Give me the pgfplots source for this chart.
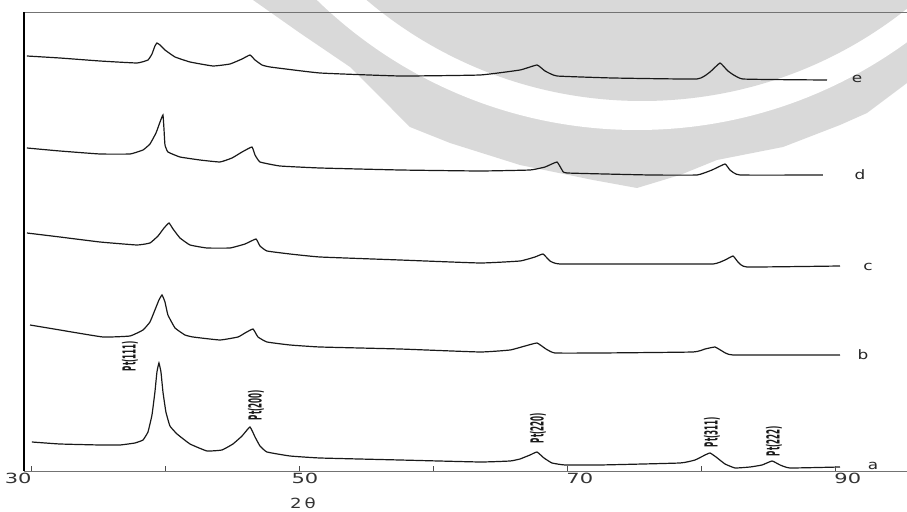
\documentclass[border=0pt]{standalone}
\usepackage{fontspec}
\setmainfont{DejaVu Sans}
\usepackage{graphicx}
\usepackage{pgfplots}
\pgfplotsset{compat=1.18}
\definecolor{wm}{RGB}{217,217,217}
\definecolor{ink}{RGB}{25,25,25}
\begin{document}
\begin{tikzpicture}
\begin{axis}[
  scale only axis, width=883pt, height=459pt,
  xmin=29.48, xmax=95.37, ymin=0, ymax=459,
  axis x line=box, axis y line=left,
  x axis line style={draw=black!55, line width=0.9pt, -},
  y axis line style={draw=black, line width=1.5pt, -},
  xtick={30,50,70,90}, minor xtick={40,60,80},
  xticklabels={30\hspace*{17pt},\hspace*{8pt}50,\hspace*{17pt}70,\hspace*{17pt}90},
  xtick pos=left, ytick=\empty,
  tick align=inside, major tick length=5pt, minor tick length=5pt,
  tick style={black!70, line width=0.8pt},
  xticklabel style={font=\fontsize{14}{14}\selectfont, xscale=1.5, text=black!80, yshift=1pt},
  xlabel={2\,θ},
  xlabel style={at={(axis description cs:0.316,0)}, anchor=center, yshift=-32pt, font=\fontsize{14}{14}\selectfont, xscale=1.3, text=black!80},
  clip=false, axis on top,
  curve/.style={draw=ink, line width=1.2pt, smooth, tension=0.2, mark=none},
]
% background watermark
\addplot[fill=wm, draw=none, sharp plot, mark=none] coordinates {
(46.57,471) (50.07,438) (53.81,404) (56.27,371) (58.28,344) (61.27,328) (66.49,306)
(71.94,291) (75.22,283) (78.43,296) (81.19,311) (86.12,324) (90.37,346) (92.39,358)
(95.37,388) (95.37,471)} -- cycle;
\fill[white] (axis cs:75.22,799.8) ellipse [x radius=34.24, y radius=458.8];
\fill[wm] (axis cs:75.6,790) ellipse [x radius=31.6, y radius=420];

% curve a
\addplot[curve] coordinates {
(30.07,29) (32.16,27) (35.15,26) (36.64,26) (37.76,28) (38.36,31) (38.73,39) (39.03,56)
(39.25,79) (39.40,99) (39.55,108) (39.70,99) (39.85,79) (40.07,59) (40.37,45) (40.90,37)
(41.87,27) (43.13,20) (44.25,21) (45.07,27) (45.75,35) (46.34,44) (46.72,34) (47.09,25)
(47.61,19) (49.33,15) (51.57,13) (57.54,11) (63.51,9) (65.75,10) (66.49,12) (67.24,16)
(67.76,19) (68.28,13) (68.88,8) (69.85,6) (72.46,6) (78.43,8) (79.55,11) (80.30,16)
(80.67,18) (81.12,14) (81.79,7) (82.54,3) (83.66,4) (84.55,6) (85.30,10) (85.90,6)
(86.64,3) (90.37,4)};
% curve b
\addplot[curve] coordinates {
(29.93,146) (32.16,141) (35.37,134) (37.39,135) (38.36,141) (38.88,149) (39.25,161)
(39.55,171) (39.78,176) (40.00,169) (40.22,156) (40.75,143) (41.49,136) (42.09,134)
(44.10,131) (45.45,134) (45.97,138) (46.57,142) (46.94,134) (47.61,129) (49.33,126)
(51.57,124) (57.54,122) (63.51,119) (65.75,121) (66.87,125) (67.76,128) (68.43,122)
(69.10,118) (72.46,118) (79.40,119) (80.30,122) (81.04,124) (81.57,120) (82.39,116)
(90.37,116)};
% curve c
\addplot[curve] coordinates {
(29.70,238) (32.16,234) (35.15,229) (37.91,226) (38.88,228) (39.48,235) (39.93,243)
(40.30,248) (40.60,242) (41.12,233) (41.87,226) (43.13,223) (44.85,223) (45.97,227)
(46.79,232) (47.09,225) (47.61,220) (49.33,217) (51.57,214) (57.54,211) (63.51,208)
(66.49,210) (67.61,214) (68.21,217) (68.73,210) (69.48,207) (76.19,207) (80.90,207)
(81.79,211) (82.39,215) (82.76,209) (83.43,204) (90.37,205)};
% curve d
\addplot[curve] coordinates {
(29.70,323) (32.16,320) (35.15,317) (37.39,317) (38.36,321) (38.88,327) (39.33,338)
(39.63,349) (39.85,356) (39.93,341) (40.00,326) (40.22,319) (41.12,314) (42.61,311)
(44.10,309) (45.00,313) (45.75,319) (46.49,324) (46.72,316) (47.09,309) (48.58,305)
(51.57,303) (57.54,301) (63.51,300) (67.24,301) (68.36,304) (69.25,309) (69.63,301)
(70.00,298) (76.19,296) (79.70,296) (80.82,301) (81.79,307) (82.16,301) (82.91,296)
(89.10,296)};
% curve e
\addplot[curve] coordinates {
(29.70,415) (32.16,413) (35.15,410) (37.91,408) (38.73,411) (39.03,417) (39.25,425)
(39.40,428) (39.63,426) (40.00,421) (40.75,414) (41.87,409) (43.58,405) (44.85,407)
(45.75,412) (46.34,416) (46.72,411) (47.24,406) (47.84,404) (51.57,398) (57.54,395)
(63.51,396) (66.49,401) (67.76,406) (68.36,400) (69.25,395) (73.43,393) (79.70,392)
(80.67,399) (81.42,408) (82.01,400) (83.13,392) (89.40,391)};

% curve labels
\begin{scope}[every node/.style={font=\fontsize{13}{13}\selectfont, xscale=1.3, text=black!85}]
\node at (axis cs:92.84,5) {a};
\node at (axis cs:92.09,116) {b};
\node at (axis cs:92.46,204) {c};
\node at (axis cs:91.87,296) {d};
\node at (axis cs:91.64,392) {e};
\end{scope}
% peak labels
\begin{scope}[every node/.style={rotate=90, font=\bfseries\fontsize{9}{9}\selectfont, text=black!90, inner sep=0pt}]
\node at (axis cs:37.39,115) {\scalebox{0.8}[2.0]{Pt(111)}};
\node at (axis cs:46.79,66) {\scalebox{0.8}[2.0]{Pt(200)}};
\node at (axis cs:67.84,43) {\scalebox{0.8}[2.0]{Pt(220)}};
\node at (axis cs:80.82,39) {\scalebox{0.8}[2.0]{Pt(311)}};
\node at (axis cs:85.45,30) {\scalebox{0.8}[2.0]{Pt(222)}};
\end{scope}
\end{axis}
\pgfresetboundingbox
\path ([shift={(-24pt,-41pt)}]current axis.south west) rectangle ([shift={(0pt,12pt)}]current axis.north east);
\end{tikzpicture}
\end{document}
